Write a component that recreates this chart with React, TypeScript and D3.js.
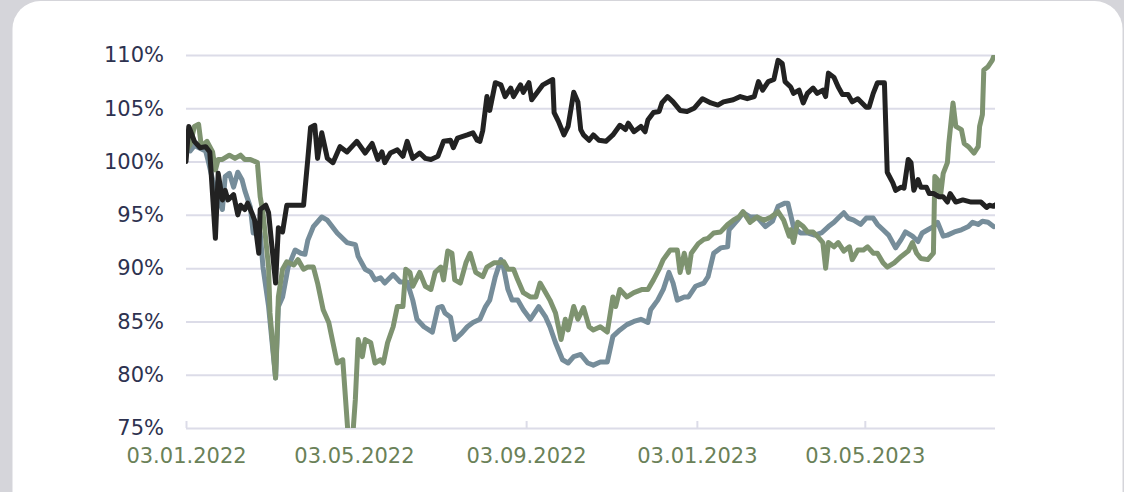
import React, { useRef, useEffect } from "react";
import * as d3 from "d3";

// days after 03.01.2022, value in %
const startDate = new Date(2022, 0, 3);
const endDate = new Date(2023, 7, 4);

const xTickDates = ["2022-01-03", "2022-05-03", "2022-09-03", "2023-01-03", "2023-05-03"];
const yTicks = [75, 80, 85, 90, 95, 100, 105, 110];

const blackDays = [0, 2, 6, 10, 14, 17, 21, 23, 26, 28, 30, 34, 37, 39, 42, 44, 47, 49, 52, 53, 57, 59, 64, 66, 69, 72, 77, 84, 87, 89, 92, 94, 97, 101, 105, 110, 115, 122, 128, 133, 137, 140, 142, 146, 151, 155, 158, 162, 167, 171, 175, 180, 184, 189, 191, 194, 201, 205, 208, 210, 212, 215, 217, 221, 225, 228, 232, 234, 239, 241, 245, 247, 251, 255, 262, 263, 266, 270, 273, 277, 280, 282, 284, 288, 291, 295, 300, 305, 310, 314, 316, 320, 325, 328, 330, 334, 338, 340, 344, 348, 353, 358, 363, 369, 375, 380, 384, 391, 396, 401, 406, 409, 412, 416, 420, 423, 426, 428, 432, 434, 438, 441, 444, 448, 451, 455, 457, 459, 463, 466, 469, 473, 476, 480, 486, 488, 491, 494, 499, 501, 505, 507, 511, 513, 516, 518, 520, 523, 525, 529, 531, 534, 538, 541, 544, 546, 550, 555, 561, 568, 572, 574, 577, 579];
const blackValues = [100.0, 103.3, 101.9, 101.3, 101.4, 100.9, 92.8, 98.9, 96.4, 97.3, 96.4, 96.9, 95.0, 95.9, 95.5, 96.1, 95.2, 94.5, 91.4, 95.5, 95.9, 95.2, 88.6, 93.8, 93.4, 95.9, 95.9, 95.9, 100.2, 103.2, 103.4, 100.3, 102.7, 100.3, 99.9, 101.4, 100.9, 101.9, 100.8, 101.7, 100.2, 100.9, 99.9, 100.8, 101.1, 100.5, 101.9, 100.3, 100.8, 100.3, 100.2, 100.5, 101.9, 102.0, 101.3, 102.2, 102.5, 102.7, 102.0, 101.9, 102.9, 106.1, 104.8, 107.4, 107.2, 106.1, 106.9, 106.1, 107.2, 106.5, 107.4, 105.8, 106.5, 107.2, 107.7, 104.6, 103.8, 102.5, 103.3, 106.5, 105.6, 103.0, 102.5, 102.0, 102.5, 102.0, 101.9, 102.5, 103.4, 103.0, 103.6, 102.8, 103.3, 102.8, 103.9, 104.6, 104.7, 105.5, 106.1, 105.6, 104.8, 104.7, 105.0, 105.9, 105.5, 105.3, 105.6, 105.8, 106.1, 105.9, 106.1, 107.5, 106.7, 107.5, 107.7, 109.5, 109.2, 107.5, 107.0, 106.4, 106.7, 105.5, 106.4, 106.9, 106.4, 106.7, 106.1, 108.3, 107.9, 107.0, 106.3, 106.3, 105.6, 105.9, 105.1, 105.1, 106.4, 107.4, 107.4, 99.0, 98.0, 97.3, 97.6, 97.5, 100.2, 99.9, 97.3, 98.3, 97.6, 97.6, 97.0, 97.0, 96.7, 96.7, 96.2, 97.0, 96.2, 96.4, 96.2, 96.2, 95.7, 95.9, 95.8, 96.0];

const blueDays = [0, 3, 6, 14, 16, 19, 23, 26, 28, 31, 34, 37, 40, 42, 46, 48, 53, 55, 59, 64, 66, 69, 73, 78, 82, 85, 87, 91, 97, 101, 108, 115, 121, 123, 128, 132, 135, 139, 142, 148, 153, 158, 162, 165, 170, 176, 180, 183, 185, 189, 192, 197, 201, 205, 210, 214, 217, 221, 225, 227, 230, 233, 237, 241, 246, 252, 257, 260, 264, 269, 273, 277, 282, 287, 291, 296, 301, 305, 310, 315, 320, 325, 330, 332, 337, 341, 345, 348, 351, 356, 359, 364, 370, 373, 377, 382, 387, 388, 394, 398, 403, 408, 414, 419, 423, 428, 430, 434, 439, 444, 449, 454, 459, 463, 466, 470, 473, 477, 482, 486, 491, 494, 498, 502, 507, 511, 514, 519, 523, 526, 530, 534, 537, 541, 544, 549, 554, 559, 562, 566, 569, 573, 577];
const blueValues = [101.5, 101.0, 101.5, 101.0, 100.0, 98.3, 96.5, 95.5, 98.6, 98.9, 97.6, 99.0, 98.3, 97.3, 95.7, 93.3, 93.3, 90.1, 86.4, 79.7, 86.4, 87.3, 90.1, 91.7, 91.4, 91.3, 92.6, 93.9, 94.8, 94.5, 93.3, 92.4, 92.2, 91.1, 89.9, 89.6, 88.9, 89.1, 88.6, 89.4, 88.7, 88.7, 87.0, 85.2, 84.5, 84.0, 86.3, 86.4, 85.8, 85.4, 83.3, 83.9, 84.5, 84.9, 85.2, 86.4, 87.0, 89.2, 90.8, 90.0, 88.0, 87.0, 87.0, 86.1, 85.2, 86.4, 85.4, 84.5, 83.0, 81.4, 81.1, 81.7, 81.9, 81.1, 80.9, 81.2, 81.2, 83.6, 84.2, 84.7, 85.0, 85.2, 84.9, 86.1, 87.0, 88.0, 89.6, 88.6, 87.0, 87.3, 87.3, 88.3, 88.6, 89.2, 91.4, 91.9, 92.0, 93.6, 94.5, 95.2, 94.8, 94.8, 93.9, 94.4, 95.8, 96.1, 96.1, 93.9, 93.3, 93.3, 93.1, 93.3, 93.9, 94.3, 94.7, 95.2, 94.7, 94.5, 94.1, 94.7, 94.7, 94.1, 93.6, 93.1, 91.9, 92.7, 93.4, 93.0, 92.5, 93.3, 93.6, 93.9, 94.3, 93.0, 93.1, 93.4, 93.6, 93.9, 94.3, 94.1, 94.4, 94.3, 93.9];

const greenDays = [0, 3, 6, 9, 11, 15, 19, 21, 23, 26, 31, 35, 39, 42, 46, 51, 53, 55, 59, 60, 64, 66, 69, 72, 77, 80, 84, 87, 91, 94, 98, 102, 105, 108, 112, 116, 119, 121, 123, 126, 128, 132, 135, 139, 141, 144, 148, 151, 155, 157, 160, 162, 167, 171, 175, 178, 182, 184, 187, 190, 192, 196, 200, 203, 207, 212, 215, 220, 223, 227, 230, 234, 237, 241, 246, 250, 253, 257, 260, 264, 268, 271, 273, 277, 280, 284, 288, 291, 296, 301, 305, 307, 310, 315, 320, 326, 330, 334, 338, 341, 346, 351, 353, 356, 359, 361, 366, 370, 373, 377, 382, 387, 391, 395, 398, 403, 408, 413, 418, 423, 427, 431, 432, 434, 437, 441, 444, 448, 451, 455, 457, 459, 463, 466, 470, 474, 476, 480, 484, 487, 491, 494, 498, 501, 506, 511, 516, 519, 522, 525, 530, 534, 535, 537, 539, 541, 544, 545, 548, 550, 554, 556, 559, 563, 566, 567, 569, 570, 573, 576, 579];
const greenValues = [101.0, 101.6, 103.3, 103.5, 101.4, 101.9, 100.9, 99.2, 100.2, 100.2, 100.6, 100.3, 100.6, 100.2, 100.2, 99.9, 96.7, 95.2, 90.1, 85.8, 79.7, 87.3, 89.9, 90.6, 90.3, 90.8, 89.9, 90.1, 90.1, 88.6, 86.1, 84.9, 83.0, 81.1, 81.4, 74.0, 74.0, 77.7, 83.3, 81.7, 83.3, 83.0, 81.1, 81.4, 81.1, 83.0, 84.5, 86.4, 86.4, 89.9, 89.6, 88.3, 89.6, 88.3, 88.0, 89.6, 90.1, 88.9, 91.6, 91.4, 88.9, 88.6, 90.5, 91.4, 89.6, 89.2, 90.1, 90.5, 90.5, 90.6, 89.9, 89.9, 88.9, 87.7, 87.3, 87.3, 88.6, 87.7, 87.0, 85.8, 83.3, 85.2, 84.2, 86.4, 85.2, 86.3, 84.5, 84.2, 84.5, 84.0, 87.3, 86.4, 88.0, 87.3, 87.7, 88.0, 88.0, 88.9, 89.9, 90.8, 91.7, 91.7, 89.6, 91.4, 89.6, 91.4, 92.3, 92.7, 92.8, 93.3, 93.4, 94.1, 94.5, 94.8, 95.3, 94.3, 94.8, 94.5, 94.8, 95.3, 94.5, 93.0, 93.6, 92.4, 94.3, 93.9, 93.4, 93.4, 93.0, 92.4, 90.0, 92.4, 92.0, 92.4, 91.6, 92.0, 90.8, 91.7, 91.7, 92.0, 91.4, 91.4, 90.5, 90.1, 90.5, 91.1, 91.6, 92.4, 91.4, 90.9, 90.8, 91.4, 98.6, 98.3, 96.7, 98.9, 99.9, 101.7, 105.5, 103.3, 103.0, 101.7, 101.4, 100.8, 101.4, 103.3, 104.4, 108.6, 108.9, 109.5, 110.5];

const series = [
  { name: "blue", days: blueDays, values: blueValues, color: "#768d9a" },
  { name: "green", days: greenDays, values: greenValues, color: "#7e9370" },
  { name: "black", days: blackDays, values: blackValues, color: "#222222" },
];

const W = 1124;
const H = 492;
const margin = { left: 186, right: 129, top: 55, bottom: 64 };

const Chart = () => {
  const ref = useRef<SVGSVGElement>(null);

  useEffect(() => {
    const svg = d3.select(ref.current);
    svg.selectAll("*").remove();

    const x = d3.scaleTime([startDate, endDate], [margin.left, W - margin.right]);
    const y = d3.scaleLinear([75, 110], [H - margin.bottom, margin.top]);

    // card
    svg.append("rect").attr("width", W).attr("height", H).attr("fill", "#d5d5da");
    svg.append("rect")
      .attr("x", 12.5).attr("y", 1).attr("width", 1110).attr("height", 520)
      .attr("rx", 28).attr("fill", "#ffffff");

    svg.append("defs").append("clipPath").attr("id", "plot-clip")
      .append("rect")
      .attr("x", margin.left).attr("y", margin.top)
      .attr("width", W - margin.right - margin.left)
      .attr("height", H - margin.bottom - margin.top);

    const plotW = W - margin.left - margin.right;

    svg.append("g")
      .attr("transform", `translate(${margin.left},0)`)
      .call(d3.axisLeft(y).tickValues(yTicks).tickFormat(d => d + "%").tickSize(-plotW).tickPadding(22))
      .call(g => g.select(".domain").remove())
      .call(g => g.selectAll(".tick line").attr("stroke", "#dcdce8").attr("stroke-width", 2))
      .call(g => g.selectAll(".tick text")
        .attr("fill", "#2d3250")
        .attr("font-family", "DejaVu Sans, Verdana, sans-serif")
        .attr("font-size", 21));

    svg.append("g")
      .attr("transform", `translate(0,${H - margin.bottom})`)
      .call(d3.axisBottom(x)
        .tickValues(xTickDates.map(s => d3.timeParse("%Y-%m-%d")(s)!))
        .tickFormat(d3.timeFormat("%d.%m.%Y") as any)
        .tickSize(-7).tickPadding(20))
      .call(g => g.select(".domain").remove())
      .call(g => g.selectAll(".tick line").attr("stroke", "#dcdce8").attr("stroke-width", 2))
      .call(g => g.selectAll(".tick text")
        .attr("fill", "#6a8158")
        .attr("font-family", "DejaVu Sans, Verdana, sans-serif")
        .attr("font-size", 21));

    const lines = svg.append("g").attr("clip-path", "url(#plot-clip)");
    series.forEach(s => {
      const line = d3.line<number>()
        .x(i => x(d3.timeDay.offset(startDate, s.days[i])))
        .y(i => y(s.values[i]));
      lines.append("path")
        .attr("fill", "none")
        .attr("stroke", s.color)
        .attr("stroke-width", 5)
        .attr("stroke-linejoin", "round")
        .attr("stroke-linecap", "round")
        .attr("d", line(d3.range(s.days.length)));
    });
  }, []);

  return <svg ref={ref} width={W} height={H} style={{ display: "block" }} />;
};

export default function App() {
  return (
    <div style={{ position: "absolute", left: 0, top: 0 }}>
      <Chart />
    </div>
  );
}
